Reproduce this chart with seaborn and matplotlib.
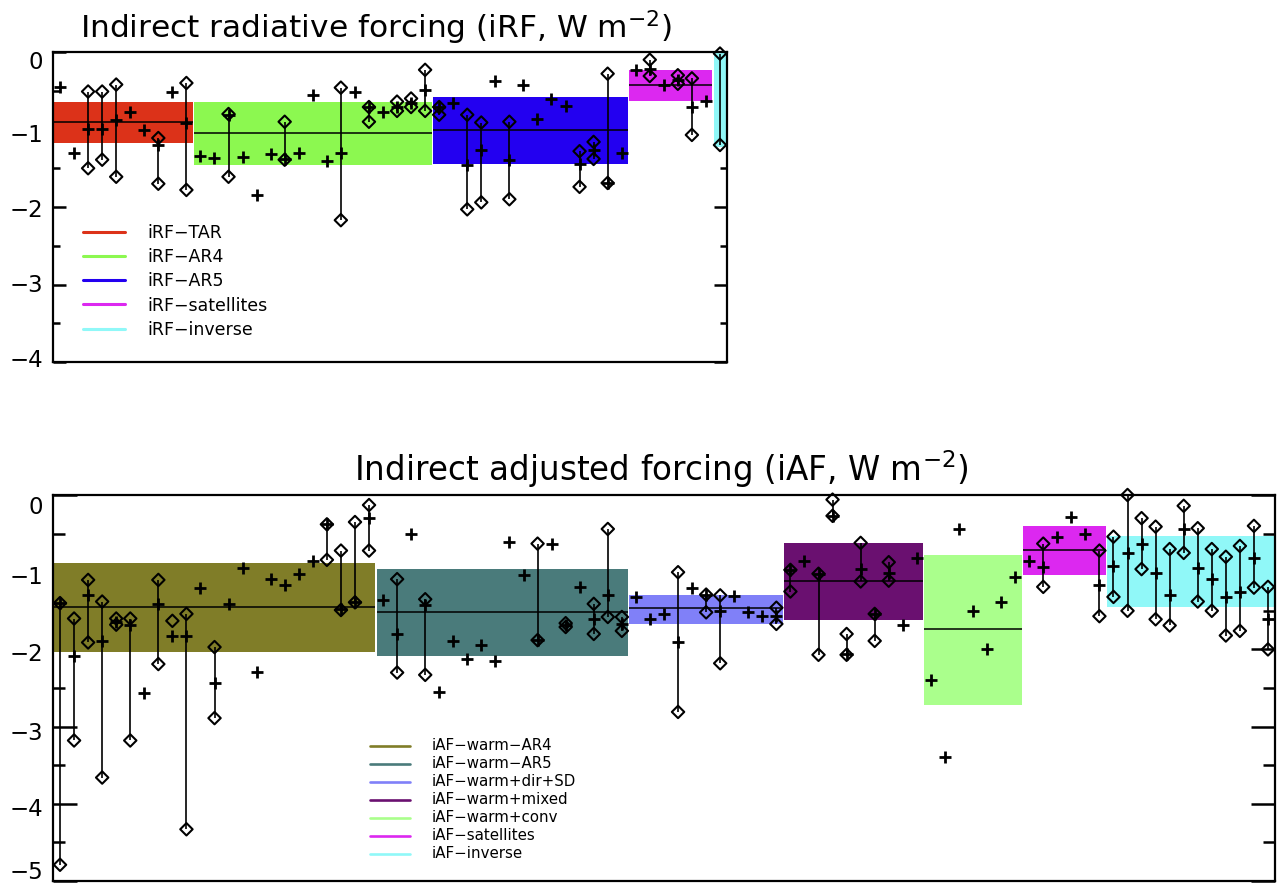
import numpy as np
import pandas as pd
import matplotlib
matplotlib.use("Agg")
import matplotlib.pyplot as plt
from matplotlib.lines import Line2D
from matplotlib.ticker import MultipleLocator
from matplotlib.transforms import ScaledTranslation
import seaborn as sns

nan = np.nan

# ---------------- Indirect radiative forcing (iRF) ----------------
irf_groups = ["iRF−TAR", "iRF−AR4", "iRF−AR5", "iRF−satellites", "iRF−inverse"]
irf_counts = [10, 17, 14, 6, 1]
irf_colors = ["#dc3219", "#8cf850", "#2300f0", "#dc28f0", "#90f8f8"]
irf_box_hi = [-0.64, -0.64, -0.585, -0.23, 0.0]
irf_box_lo = [-1.18, -1.46, -1.445, -0.63, -1.22]
irf_mean = [-0.90, -1.05, -1.01, -0.42, nan]

irf_best = [-0.45, -1.30, -0.99, -0.99, -0.88, -0.77, -1.01, -1.20, -0.51, -0.92,
            -1.34, -1.37, -0.81, -1.35, -1.85, -1.31, -1.38, -1.30, -0.55, -1.41,
            -1.30, -0.52, -0.71, -0.77, -0.71, -0.66, -0.49,
            -0.71, -0.66, -1.46, -1.26, -0.38, -1.39, -0.43, -0.86, -0.61, -0.70,
            -1.44, -1.26, -1.69, -1.30,
            -0.23, -0.22, -0.43, -0.36, -0.71, -0.63,
            nan]
irf_hi = [nan, nan, -0.51, -0.51, -0.42, nan, nan, -1.11, nan, -0.40,
          nan, nan, -0.80, nan, nan, nan, -0.90, nan, nan, nan,
          -0.46, nan, -0.71, nan, -0.64, -0.60, -0.23,
          -0.71, nan, -0.81, -0.91, nan, -0.90, nan, nan, nan, nan,
          -1.28, -1.16, -0.28, nan,
          nan, -0.10, nan, -0.30, -0.34, nan,
          -0.02]
irf_lo = [nan, nan, -1.50, -1.39, -1.61, nan, nan, -1.70, nan, -1.78,
          nan, nan, -1.61, nan, nan, nan, -1.39, nan, nan, nan,
          -2.17, nan, -0.90, nan, -0.76, -0.71, -0.76,
          -0.81, nan, -2.03, -1.94, nan, -1.90, nan, nan, nan, nan,
          -1.74, -1.38, -1.69, nan,
          nan, -0.31, nan, -0.41, -1.07, nan,
          -1.20]

# ---------------- Indirect adjusted forcing (iAF) ----------------
iaf_groups = ["iAF−warm−AR4", "iAF−warm−AR5", "iAF−warm+dir+SD", "iAF−warm+mixed",
              "iAF−warm+conv", "iAF−satellites", "iAF−inverse"]
iaf_counts = [23, 18, 11, 10, 7, 6, 12]
iaf_colors = ["#807d28", "#4a7b7b", "#8080f8", "#6a1070", "#aaff8c", "#dc28f0", "#90f8f8"]
iaf_box_hi = [-0.88, -0.96, -1.29, -0.62, -0.78, -0.40, -0.53]
iaf_box_lo = [-2.04, -2.08, -1.67, -1.62, -2.72, -1.03, -1.45]
iaf_mean = [-1.45, -1.52, -1.47, -1.12, -1.74, -0.71, nan]

iaf_best = [-1.40, -2.09, -1.29, -1.89, -1.64, -1.69, -2.57, -1.41, -1.82, -1.82,
            -1.21, -2.43, -1.41, -0.95, -2.29, -1.09, -1.16, -1.02, -0.85, -0.38,
            -1.48, -1.39, -0.30,
            -1.36, -1.80, -0.50, -1.42, -2.55, -1.89, -2.13, -1.94, -2.15, -0.61,
            -1.04, -1.88, -0.63, -1.69, -1.19, -1.60, -1.29, -1.67,
            -1.32, -1.60, -1.54, -1.90, -1.21, -1.29, -1.50, -1.31, -1.52, -1.57, -1.57,
            -0.97, -0.85, -1.02, -0.27, -2.06, -0.96, -1.54, -1.01, -1.68, -0.82,
            -2.40, -3.40, -0.44, -1.50, -1.99, -1.39, -1.06,
            -0.85, -0.93, -0.55, -0.29, -0.51, -1.16,
            -0.92, -0.75, -0.63, -1.01, -1.30, -0.44, -0.94, -1.09, -1.32, -1.26, -0.81, -1.60]
iaf_hi = [-1.40, -1.60, -1.10, -1.38, -1.60, -1.60, nan, -1.10, -1.63, -1.54,
          nan, -1.97, nan, nan, nan, nan, nan, nan, nan, -0.38,
          -0.72, -0.35, -0.13,
          nan, -1.09, nan, -1.35, nan, nan, nan, nan, nan, nan,
          nan, -0.63, nan, -1.66, nan, -1.41, -0.44, -1.58,
          nan, nan, nan, -1.00, nan, -1.29, -1.30, nan, nan, nan, -1.46,
          -0.97, nan, -1.02, -0.06, -1.80, -0.62, -1.54, -0.87, nan, nan,
          nan, nan, nan, nan, nan, nan, nan,
          nan, -0.63, nan, nan, nan, -0.72,
          -0.54, 0.0, -0.30, -0.41, -0.70, -0.14, -0.43, -0.70, -0.80, -0.66, -0.40, -1.19]
iaf_lo = [-4.79, -3.18, -1.91, -3.66, -1.68, -3.18, nan, -2.19, nan, -4.33,
          nan, -2.89, nan, nan, nan, nan, nan, nan, nan, -0.84,
          -1.49, -1.39, -0.72,
          nan, -2.30, nan, -2.33, nan, nan, nan, nan, nan, nan,
          nan, -1.88, nan, -1.71, nan, -1.80, -1.58, -1.76,
          nan, nan, nan, -2.81, nan, -1.52, -2.18, nan, nan, nan, -1.67,
          -1.25, nan, -2.07, -0.27, -2.07, -1.12, -1.89, -1.11, nan, nan,
          nan, nan, nan, nan, nan, nan, nan,
          nan, -1.19, nan, nan, nan, -1.57,
          -1.32, -1.50, -0.96, -1.61, -1.69, -0.75, -1.38, -1.50, -1.82, -1.76, -1.20, -2.00]

sns.set_theme(style="white")
plt.rcParams["font.family"] = ["DejaVu Sans"]
plt.rcParams["text.color"] = "black"
plt.rcParams["axes.unicode_minus"] = True
plt.rcParams["mathtext.default"] = "regular"

W, H = 1277, 883
fig = plt.figure(figsize=(W / 100, H / 100), dpi=100)
ax1 = fig.add_axes([53 / W, 1 - 362 / H, (727 - 53) / W, (362 - 52) / H])
ax2 = fig.add_axes([53 / W, 1 - 881 / H, (1275 - 53) / W, (881 - 495) / H])


def draw_panel(ax, counts, colors, box_hi, box_lo, box_mean, best, hi, lo, ymin,
               tick_major, tick_minor, label_shift):
    counts = np.asarray(counts, dtype=float)
    edges = np.concatenate([[0.0], np.cumsum(counts)])
    box_hi = np.asarray(box_hi)
    box_lo = np.asarray(box_lo)
    # shaded group ranges
    ax.bar(edges[:-1] + 0.04, box_hi - box_lo, width=counts - 0.08, bottom=box_lo,
           color=colors, align="edge", linewidth=0, zorder=1)
    # group means
    for e0, e1, m in zip(edges[:-1], edges[1:], box_mean):
        if np.isfinite(m):
            ax.hlines(m, e0 + 0.04, e1 - 0.04, color="black", lw=1.1, zorder=2)

    df = pd.DataFrame({"x": np.arange(len(best)) + 0.5, "best": best, "hi": hi, "lo": lo})
    rng = df.dropna(subset=["hi", "lo"])
    ax.vlines(rng["x"], rng["lo"], rng["hi"], color="black", lw=1.2, zorder=3)

    ends = pd.concat([df[["x", "hi"]].rename(columns={"hi": "y"}),
                      df[["x", "lo"]].rename(columns={"lo": "y"})]).dropna()
    sns.scatterplot(data=ends, x="x", y="y", marker="D", s=40, facecolor="none",
                    edgecolor="black", linewidth=1.5, ax=ax, zorder=4,
                    clip_on=False, legend=False)
    sns.scatterplot(data=df.dropna(subset=["best"]), x="x", y="best", marker="+",
                    s=80, color="black", linewidth=2.0, ax=ax, zorder=5,
                    clip_on=False, legend=False)

    ax.set_xlabel("")
    ax.set_ylabel("")
    ax.set_xlim(0, edges[-1])
    ax.set_ylim(ymin, 0)
    ax.set_xticks([])
    ax.set_yticks(np.arange(ymin, 0.5, 1))
    ax.yaxis.set_minor_locator(MultipleLocator(0.5))
    ax.tick_params(axis="y", which="both", direction="in", left=True, right=True,
                   width=1.8, color="black", labelcolor="black", labelsize=16.5, pad=7)
    ax.tick_params(axis="y", which="major", length=tick_major)
    ax.tick_params(axis="y", which="minor", length=tick_minor)
    ax.set_axisbelow(True)
    for sp in ax.spines.values():
        sp.set_linewidth(1.6)
        sp.set_color("black")
        sp.set_zorder(6)
    # nudge the tick labels (listed bottom to top, in pixels, positive = up)
    for lab, dy in zip(ax.get_yticklabels(), label_shift):
        lab.set_transform(lab.get_transform() +
                          ScaledTranslation(0, dy / 100, fig.dpi_scale_trans))


draw_panel(ax1, irf_counts, irf_colors, irf_box_hi, irf_box_lo, irf_mean,
           irf_best, irf_hi, irf_lo, -4, 9.5, 5, [4, 1, -1, -3, -8])
draw_panel(ax2, iaf_counts, iaf_colors, iaf_box_hi, iaf_box_lo, iaf_mean,
           iaf_best, iaf_hi, iaf_lo, -5, 17, 8.5, [11, -3, -4, -3, -3, -10])

ax1.set_title("Indirect radiative forcing (iRF, W m$^{-2}$)", fontsize=22.5, pad=9.5,
              x=0.479, color="black")
ax2.set_title("Indirect adjusted forcing (iAF, W m$^{-2}$)", fontsize=23.5, pad=10,
              x=0.498, color="black")


def legend_rows(labels, colors, x0, x1, xt, y0, dy, size, lw, cap):
    for i, (lab, col) in enumerate(zip(labels, colors)):
        y = y0 + i * dy
        fig.add_artist(Line2D([x0 / W, x1 / W], [1 - y / H, 1 - y / H],
                              color=col, lw=lw, transform=fig.transFigure))
        fig.text(xt / W, 1 - (y + cap / 2) / H, lab, fontsize=size,
                 va="baseline", ha="left", color="black")


legend_rows(irf_groups, irf_colors, 83, 125, 147, 231.5, 24.3, 12.5, 2.2, 12.7)
legend_rows(iaf_groups, iaf_colors, 370, 410, 432, 745.5, 18.0, 10.8, 1.9, 9.8)

fig.savefig("out.png", dpi=100)
